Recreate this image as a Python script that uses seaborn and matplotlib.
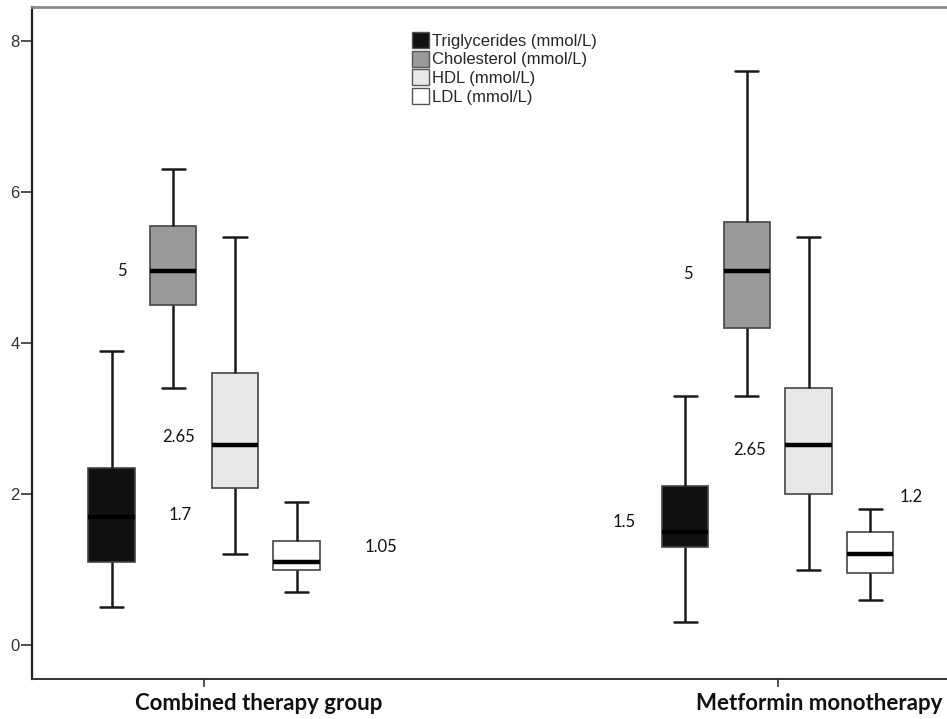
import matplotlib
matplotlib.use("Agg")
import matplotlib.pyplot as plt
import seaborn as sns
import pandas as pd
from matplotlib.patches import Patch

# Five-number summaries: min, Q1, median, Q3, max
groups = ["Combined therapy group", "Metformin monotherapy"]
measures = ["Triglycerides (mmol/L)", "Cholesterol (mmol/L)", "HDL (mmol/L)", "LDL (mmol/L)"]

combined_trig = [0.5, 1.1, 1.7, 2.35, 3.9]
combined_chol = [3.4, 4.5, 4.95, 5.55, 6.3]
combined_hdl = [1.2, 2.08, 2.65, 3.6, 5.4]
combined_ldl = [0.7, 1.0, 1.1, 1.38, 1.9]

metformin_trig = [0.3, 1.3, 1.5, 2.1, 3.3]
metformin_chol = [3.3, 4.2, 4.95, 5.6, 7.6]
metformin_hdl = [1.0, 2.0, 2.65, 3.4, 5.4]
metformin_ldl = [0.6, 0.95, 1.2, 1.5, 1.8]

# median labels written on the chart
label_texts = ["5", "2.65", "1.7", "1.05", "5", "2.65", "1.5", "1.2"]
label_x = [-0.143, -0.045, -0.042, 0.308, 0.843, 0.951, 0.733, 1.233]
label_y = [4.95, 2.75, 1.72, 1.30, 4.91, 2.58, 1.63, 1.96]

# group names sit a little right of their ticks in the original
group_label_x = [0.095, 1.073]

colors = ["#111111", "#9a9a9a", "#e8e8e8", "#ffffff"]

series = {
    groups[0]: [combined_trig, combined_chol, combined_hdl, combined_ldl],
    groups[1]: [metformin_trig, metformin_chol, metformin_hdl, metformin_ldl],
}
rows = []
for g in groups:
    for m, vals in zip(measures, series[g]):
        for v in vals:
            rows.append({"group": g, "measure": m, "value": v})
df = pd.DataFrame(rows)

sns.set_style("white")
fig = plt.figure(figsize=(9.47, 7.19), dpi=100)
ax = fig.add_axes([0.0338, 0.0556, 0.9662, 0.9346])

sns.boxplot(data=df, x="group", y="value", hue="measure", order=groups,
            hue_order=measures, palette=colors, width=0.43, gap=0.25,
            whis=(0, 100), linecolor="#444444", linewidth=1.2,
            medianprops=dict(color="black", linewidth=3.2),
            whiskerprops=dict(color="#1a1a1a", linewidth=1.8),
            capprops=dict(color="#1a1a1a", linewidth=1.8),
            legend=False, ax=ax)

for t, x, y in zip(label_texts, label_x, label_y):
    ax.text(x, y, t, ha="center", va="center", fontsize=12,
            family="Lato", color="#111111")

ax.set_xlim(-0.30, 1.295)
ax.set_ylim(-0.45, 8.45)
ax.set_yticks([0, 2, 4, 6, 8])
ax.set_xlabel("")
ax.set_ylabel("")
ax.set_xticklabels([])
for yl in ax.get_yticklabels():
    yl.set_family("Liberation Sans")
ax.tick_params(axis="y", length=8, width=1.2, color="#333333", labelsize=12,
               labelcolor="#333333", pad=1, left=True)
ax.tick_params(axis="x", length=6, width=1.2, color="#333333", bottom=True)

for gx, name in zip(group_label_x, groups):
    ax.text(gx, -0.036, name, transform=ax.get_xaxis_transform(),
            ha="center", va="center", fontsize=16, fontweight="bold",
            family="Lato", color="#111111", clip_on=False)

ax.spines["right"].set_visible(False)
ax.spines["top"].set_color("#8a8a8a")
ax.spines["top"].set_linewidth(2)
ax.spines["left"].set_color("#222222")
ax.spines["left"].set_linewidth(1.6)
ax.spines["bottom"].set_color("#333333")
ax.spines["bottom"].set_linewidth(1.4)

handles = [Patch(facecolor=c, edgecolor="#555555", linewidth=1) for c in colors]
ax.legend(handles, measures, loc="upper left", bbox_to_anchor=(0.403, 0.98),
          frameon=False, prop={"family": "Liberation Sans", "size": 12},
          handlelength=1.0, handleheight=1.1,
          handletextpad=0.2, labelspacing=0.12, borderpad=0.2)

fig.savefig("out.png", dpi=100)
